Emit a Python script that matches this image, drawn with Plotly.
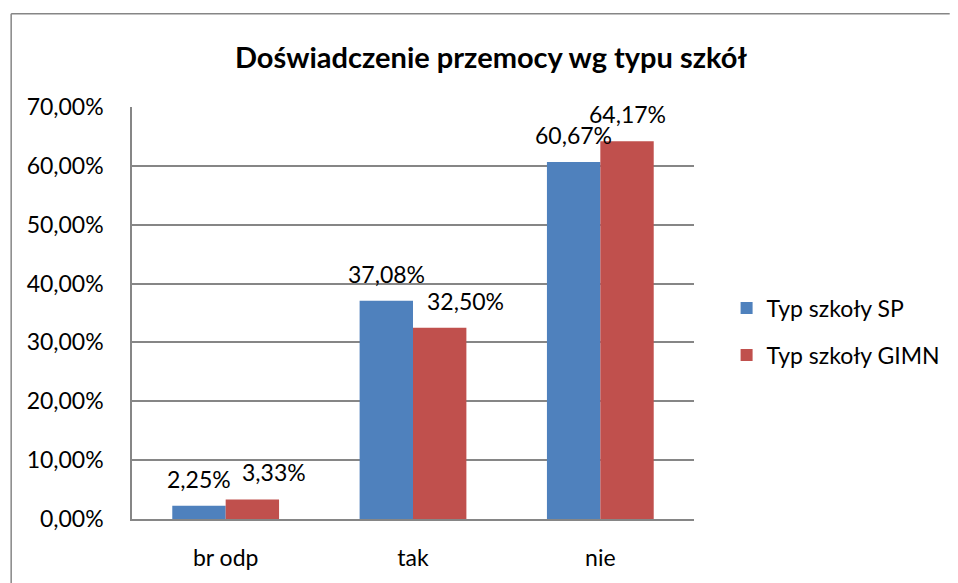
import plotly.graph_objects as go

# data
categories = ['br odp', 'tak', 'nie']
sp_values = [2.25, 37.08, 60.67]
gimn_values = [3.33, 32.50, 64.17]
series_names = ['Typ szkoły SP', 'Typ szkoły GIMN']
y_ticks = [0, 10, 20, 30, 40, 50, 60, 70]

FONT = 'Lato, Calibri, sans-serif'
blue = '#4F81BD'
red = '#C0504D'
grid = '#868686'

# Excel nudged a couple of labels sideways so they don't collide
sp_label_nudge = [0, 0, 0]
gimn_label_nudge = [21, 25, 0]


def pl(v):
    # polish number format: 37,08%
    return ('%.2f%%' % v).replace('.', ',')


fig = go.Figure()
fig.add_trace(go.Bar(x=categories, y=sp_values, name=series_names[0],
                     marker=dict(color=blue, line=dict(width=0)),
                     legendgroup='sp', hoverinfo='skip'))
fig.add_trace(go.Bar(x=categories, y=gimn_values, name=series_names[1],
                     marker=dict(color=red, line=dict(width=0)),
                     legendgroup='gimn', hoverinfo='skip'))

# data labels sit about 27px above the bar top
for vals, shift, nudge in [(sp_values, -27, sp_label_nudge),
                           (gimn_values, 27, gimn_label_nudge)]:
    for c, v, n in zip(categories, vals, nudge):
        fig.add_annotation(x=c, y=v, text=pl(v), showarrow=False,
                           xshift=shift + n, yshift=27, yanchor='middle',
                           font=dict(family=FONT, size=23, color='#000000'))

# chart border (only top and left edges are visible)
for x0, y0, x1, y1 in [(-0.215, 1.2265, 1.455, 1.2265), (-0.215, -0.2, -0.215, 1.2265)]:
    fig.add_shape(type='line', xref='paper', yref='paper',
                  x0=x0, y0=y0, x1=x1, y1=y1,
                  line=dict(color=grid, width=1.5))

fig.update_layout(
    width=958, height=583,
    margin=dict(l=132, r=259, t=107, b=61),
    paper_bgcolor='white', plot_bgcolor='white',
    bargap=0.43, bargroupgap=0,
    font=dict(family=FONT, size=23, color='#000000'),
    title=dict(text='<b>Doświadczenie przemocy wg typu szkół</b>',
               x=491 / 958, xanchor='center', y=1 - 58 / 583, yanchor='middle',
               font=dict(family=FONT, size=29, color='#000000')),
    legend=dict(x=1.058, xanchor='left', y=0.455, yanchor='middle',
                traceorder='grouped', tracegroupgap=14,
                font=dict(family=FONT, size=23), bgcolor='rgba(0,0,0,0)'),
    showlegend=True,
)
fig.update_xaxes(showline=True, linecolor=grid, linewidth=1.5,
                 showgrid=False, ticks='', ticklabelstandoff=18)
fig.update_yaxes(range=[0, 70], tickvals=y_ticks,
                 ticktext=[pl(t) for t in y_ticks],
                 showline=True, linecolor=grid, linewidth=1.5,
                 showgrid=True, gridcolor=grid, gridwidth=1.5,
                 zeroline=False, ticks='', ticklabelstandoff=22)

fig.write_html('out.html', config={'displayModeBar': False},
               post_script="document.body.style.margin='0';"
                           "document.body.style.overflow='hidden';"
                           "document.documentElement.style.overflow='hidden';")
